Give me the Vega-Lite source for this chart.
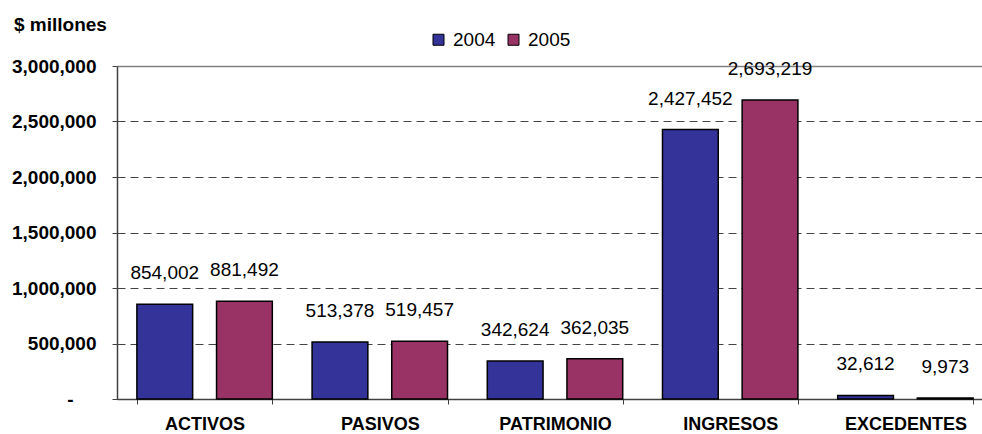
{
  "$schema": "https://vega.github.io/schema/vega-lite/v6.json",
  "width": 865,
  "height": 333,
  "autosize": {"type": "none"},
  "padding": {"left": 117, "top": 66, "right": 0, "bottom": 35},
  "config": {
    "font": "Liberation Sans",
    "view": {"stroke": null}
  },
  "title": {
    "text": "$ millones",
    "anchor": "start",
    "frame": "group",
    "dx": -103,
    "dy": 9,
    "fontSize": 19,
    "fontWeight": "bold",
    "color": "#000000",
    "font": "Liberation Sans"
  },
  "data": {
    "values": [
      {"categoria": "ACTIVOS", "anio": "2004", "valor": 854002},
      {"categoria": "ACTIVOS", "anio": "2005", "valor": 881492},
      {"categoria": "PASIVOS", "anio": "2004", "valor": 513378},
      {"categoria": "PASIVOS", "anio": "2005", "valor": 519457},
      {"categoria": "PATRIMONIO", "anio": "2004", "valor": 342624},
      {"categoria": "PATRIMONIO", "anio": "2005", "valor": 362035},
      {"categoria": "INGRESOS", "anio": "2004", "valor": 2427452},
      {"categoria": "INGRESOS", "anio": "2005", "valor": 2693219},
      {"categoria": "EXCEDENTES", "anio": "2004", "valor": 32612},
      {"categoria": "EXCEDENTES", "anio": "2005", "valor": 9973}
    ]
  },
  "encoding": {
    "x": {
      "field": "categoria",
      "type": "nominal",
      "sort": null,
      "scale": {"paddingInner": 0.227, "paddingOuter": 0.1135, "range": [0, 876]},
      "axis": {
        "title": null,
        "labelAngle": 0,
        "labelFontSize": 18,
        "labelFontWeight": "bold",
        "labelColor": "#000000",
        "labelPadding": 11,
        "tickBand": "extent",
        "tickSize": 5,
        "tickColor": "#404040",
        "domainColor": "#404040",
        "domainWidth": 1.5,
        "grid": false
      }
    },
    "xOffset": {
      "field": "anio",
      "type": "nominal",
      "scale": {"paddingInner": 0.3, "paddingOuter": 0}
    },
    "y": {
      "field": "valor",
      "type": "quantitative",
      "scale": {"domain": [0, 3000000], "nice": false},
      "axis": {
        "title": null,
        "values": [0, 500000, 1000000, 1500000, 2000000, 2500000, 3000000],
        "labelExpr": "datum.value === 0 ? '-' : format(datum.value, ',')",
        "labelFontSize": 19,
        "labelFontWeight": "bold",
        "labelColor": "#000000",
        "labelPadding": {"condition": {"test": "datum.value === 0", "value": 39}, "value": 16},
        "tickSize": 5,
        "tickColor": "#404040",
        "domainColor": "#404040",
        "domainWidth": 1.5,
        "grid": true,
        "gridColor": {"condition": {"test": "datum.value === 3000000", "value": "#808080"}, "value": "#444444"},
        "gridDash": {"condition": {"test": "datum.value === 3000000", "value": []}, "value": [8, 5]},
        "gridWidth": {"condition": {"test": "datum.value === 3000000", "value": 1.5}, "value": 1}
      }
    }
  },
  "layer": [
    {
      "mark": {"type": "bar", "stroke": "#000000", "strokeWidth": 1.5},
      "encoding": {
        "color": {
          "field": "anio",
          "type": "nominal",
          "scale": {"domain": ["2004", "2005"], "range": ["#333399", "#993366"]},
          "legend": {
            "title": null,
            "orient": "none",
            "direction": "horizontal",
            "legendX": 312,
            "legendY": -36,
            "padding": 0,
            "symbolType": "square",
            "symbolSize": 121,
            "symbolStrokeColor": "#000000",
            "symbolStrokeWidth": 1,
            "symbolOpacity": 1,
            "labelFontSize": 19,
            "labelColor": "#000000",
            "labelOffset": 5,
            "columnPadding": 8
          }
        }
      }
    },
    {
      "mark": {"type": "text", "baseline": "alphabetic", "dy": -25, "fontSize": 19, "color": "#000000"},
      "encoding": {
        "text": {"field": "valor", "type": "quantitative", "format": ","}
      }
    }
  ]
}
